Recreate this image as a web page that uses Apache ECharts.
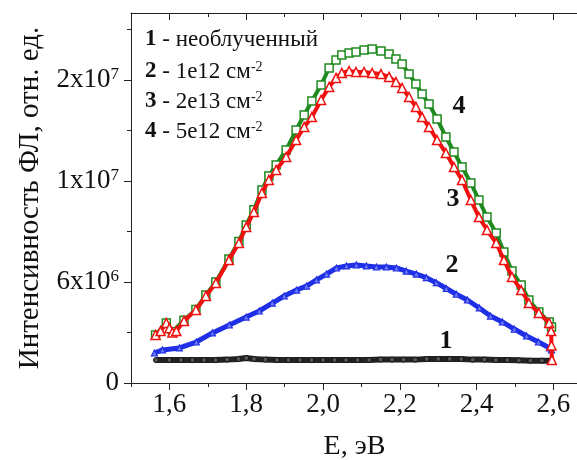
<!DOCTYPE html>
<html><head><meta charset="utf-8">
<script src="https://cdn.jsdelivr.net/npm/echarts@6/dist/echarts.min.js"></script>
<style>html,body{margin:0;padding:0;background:#fff}#c{width:577px;height:460px}</style>
</head><body><div id="c"></div>
<script>
// ---- data (E in eV, intensity in units of 1e6 of the axis scale) ----
const E1 = [1.565,1.600,1.630,1.660,1.690,1.720,1.750,1.780,1.800,1.820,1.850,1.880,1.910,1.940,1.970,2.000,2.030,2.060,2.090,2.120,2.150,2.180,2.210,2.240,2.270,2.300,2.330,2.360,2.390,2.420,2.450,2.480,2.510,2.540,2.570,2.595];
const I1 = [1.59,1.59,1.59,1.59,1.59,1.59,1.62,1.66,1.73,1.66,1.62,1.59,1.59,1.59,1.59,1.59,1.59,1.59,1.59,1.60,1.62,1.62,1.62,1.62,1.66,1.66,1.66,1.66,1.62,1.62,1.59,1.59,1.57,1.55,1.55,1.55];
const E2 = [1.561,1.582,1.626,1.670,1.712,1.756,1.800,1.834,1.868,1.899,1.931,1.957,1.983,2.009,2.035,2.061,2.087,2.113,2.139,2.165,2.191,2.217,2.243,2.269,2.295,2.321,2.347,2.376,2.407,2.436,2.467,2.498,2.530,2.561,2.590,2.595];
const I2 = [2.08,2.29,2.43,2.84,3.47,4.02,4.57,4.99,5.54,6.03,6.44,6.72,7.14,7.55,7.97,8.11,8.18,8.11,8.04,8.04,7.97,7.75,7.55,7.30,6.95,6.55,6.15,5.75,5.20,4.64,4.23,3.74,3.26,2.84,2.43,2.29];
const E3 = [1.564,1.577,1.592,1.600,1.608,1.618,1.638,1.669,1.695,1.721,1.755,1.781,1.800,1.820,1.841,1.859,1.878,1.904,1.930,1.951,1.971,1.995,2.016,2.034,2.049,2.068,2.086,2.107,2.128,2.151,2.172,2.190,2.206,2.224,2.242,2.258,2.276,2.297,2.320,2.341,2.362,2.385,2.406,2.427,2.451,2.471,2.492,2.516,2.536,2.562,2.589,2.594,2.595,2.596];
const I3 = [3.33,3.60,4.16,3.80,3.50,3.60,4.30,5.06,6.03,6.93,8.52,9.70,10.81,11.85,13.17,14.07,14.76,15.66,16.84,17.74,18.43,19.61,20.51,21.14,21.48,21.62,21.55,21.55,21.48,21.41,21.21,20.86,20.44,19.82,19.13,18.43,17.74,16.84,15.94,14.97,14.07,12.68,11.50,10.60,9.70,8.52,7.35,6.44,5.54,4.85,4.16,3.60,2.60,1.60];
const E4 = [1.564,1.592,1.608,1.638,1.669,1.695,1.721,1.755,1.781,1.800,1.820,1.841,1.859,1.878,1.904,1.930,1.951,1.971,1.995,2.016,2.034,2.049,2.068,2.086,2.107,2.128,2.151,2.172,2.190,2.206,2.224,2.242,2.258,2.276,2.297,2.320,2.341,2.362,2.385,2.406,2.427,2.451,2.471,2.492,2.516,2.536,2.562,2.589,2.595];
const I4 = [3.33,4.16,3.55,4.35,5.10,6.10,7.00,8.60,9.80,10.95,12.00,13.38,14.35,15.11,16.15,17.53,18.57,19.54,20.65,21.83,22.38,22.73,22.87,22.94,23.08,23.15,23.01,22.80,22.45,22.11,21.41,20.72,20.03,19.33,18.30,17.05,16.01,14.97,13.86,12.68,11.50,10.40,9.08,7.76,6.79,5.75,4.92,4.23,3.88];

const xMajorTicks = [1.6,1.8,2.0,2.2,2.4,2.6];
const xMinorTicks = [1.5,1.7,1.9,2.1,2.3,2.5];
const yMajorTicks = [0,7,14,21];
const yMinorTicks = [3.5,10.5,17.5,24.5];
const yTickBase = ['0','6x10','1x10','2x10'];
const yTickExp  = ['','6','7','7'];

const legendNums = ['1','2','3','4'];
const legendTexts = [' - необлученный',' - 1e12 см',' - 2e13 см',' - 5e12 см'];
const legendSups = ['','-2','-2','-2'];
const curveLabels = ['1','2','3','4'];

const FONT = '"Liberation Serif","Times New Roman",serif';
const zip = (a,b) => a.map((v,i)=>[v,b[i]]);

const baseX = {type:'value', min:1.5, max:2.664, gridIndex:0, splitLine:{show:false}};
const baseY = {type:'value', min:0, max:25.64, splitLine:{show:false}};
const lineStyleAxis = {color:'#222', width:1};

const option = {
  animation:false,
  backgroundColor:'#fff',
  grid:{left:131, top:13, width:447, height:370, containLabel:false, outerBoundsMode:'none'},
  xAxis:[
    Object.assign({}, baseX, {position:'bottom', name:'E, эВ', nameLocation:'middle', nameGap:50,
      nameTextStyle:{fontFamily:FONT, fontSize:28, color:'#111'},
      axisLine:{show:true, lineStyle:lineStyleAxis},
      axisTick:{show:true, inside:false, length:7, customValues:xMajorTicks, lineStyle:lineStyleAxis},
      axisLabel:{show:true, customValues:xMajorTicks, margin:8, fontFamily:FONT, fontSize:27, color:'#111',
        formatter:v=>v.toFixed(1).replace('.',',')}}),
    Object.assign({}, baseX, {position:'bottom',
      axisLine:{show:false}, axisTick:{show:true, inside:false, length:4, customValues:xMinorTicks, lineStyle:lineStyleAxis},
      axisLabel:{show:false}}),
    Object.assign({}, baseX, {position:'top',
      axisLine:{show:true, lineStyle:lineStyleAxis},
      axisTick:{show:true, inside:true, length:7, customValues:xMajorTicks, lineStyle:lineStyleAxis},
      axisLabel:{show:false}}),
    Object.assign({}, baseX, {position:'top',
      axisLine:{show:false}, axisTick:{show:true, inside:true, length:4, customValues:xMinorTicks, lineStyle:lineStyleAxis},
      axisLabel:{show:false}})
  ],
  yAxis:[
    Object.assign({}, baseY, {position:'left', name:'Интенсивность ФЛ, отн. ед.', nameLocation:'middle', nameGap:86,
      nameTextStyle:{fontFamily:FONT, fontSize:29, color:'#111'},
      axisLine:{show:true, lineStyle:lineStyleAxis},
      axisTick:{show:true, inside:false, length:7, customValues:yMajorTicks, lineStyle:lineStyleAxis},
      axisLabel:{show:true, customValues:yMajorTicks, margin:12, fontFamily:FONT, fontSize:27, color:'#111',
        formatter:v=>{const i=yMajorTicks.indexOf(Math.round(v)); return yTickBase[i] + (yTickExp[i]?'{sup|'+yTickExp[i]+'}':'');},
        rich:{sup:{fontFamily:FONT, fontSize:17, color:'#111', verticalAlign:'top'}}}}),
    Object.assign({}, baseY, {position:'left',
      axisLine:{show:false}, axisTick:{show:true, inside:false, length:4, customValues:yMinorTicks, lineStyle:lineStyleAxis},
      axisLabel:{show:false}})
  ],
  series:[
    {type:'line', name:'1', data:zip(E1,I1), xAxisIndex:0, yAxisIndex:0, symbol:'circle', symbolSize:5,
      lineStyle:{color:'#222', width:6}, itemStyle:{color:'#555', borderColor:'#111', borderWidth:1}, z:2},
    {type:'line', name:'2', data:zip(E2,I2), xAxisIndex:0, yAxisIndex:0, symbol:'triangle', symbolSize:6,
      lineStyle:{color:'#1f2fe6', width:5}, itemStyle:{color:'#6f7af0', borderColor:'#1f2fe6', borderWidth:1.2}, z:3},
    {type:'line', name:'4', data:zip(E4,I4), xAxisIndex:0, yAxisIndex:0, symbol:'rect', symbolSize:8,
      lineStyle:{color:'#1e8a1e', width:4}, itemStyle:{color:'#fff', borderColor:'#1e8a1e', borderWidth:1.5}, z:4},
    {type:'line', name:'3', data:zip(E3,I3), xAxisIndex:0, yAxisIndex:0, symbol:'triangle', symbolSize:9,
      lineStyle:{color:'#f01010', width:4}, itemStyle:{color:'#fff', borderColor:'#f01010', borderWidth:1.5}, z:5}
  ],
  graphic:[]
};

const legendTop = [40,72,102,132];
legendNums.forEach((n,i)=>{
  option.graphic.push({type:'text', left:145, top:legendTop[i]-12, z:10,
    style:{text:'{b|'+n+'}'+legendTexts[i]+(legendSups[i]?'{sup|'+legendSups[i]+'}':''),
      fontFamily:FONT, fontSize:23, fill:'#111',
      rich:{b:{fontFamily:FONT, fontSize:23, fontWeight:'bold', fill:'#111'},
            sup:{fontFamily:FONT, fontSize:14, fill:'#111', verticalAlign:'top'}}}});
});
const curvePos = [[446,341],[452,265],[453,199],[459,106]];
curveLabels.forEach((t,i)=>{
  option.graphic.push({type:'text', x:curvePos[i][0], y:curvePos[i][1], z:10,
    style:{text:t, fontFamily:FONT, fontSize:26, fontWeight:'bold', fill:'#111', align:'center', verticalAlign:'middle'}});
});

const chart = echarts.init(document.getElementById('c'), null, {renderer:'canvas'});
chart.setOption(option);
</script>
</body></html>
